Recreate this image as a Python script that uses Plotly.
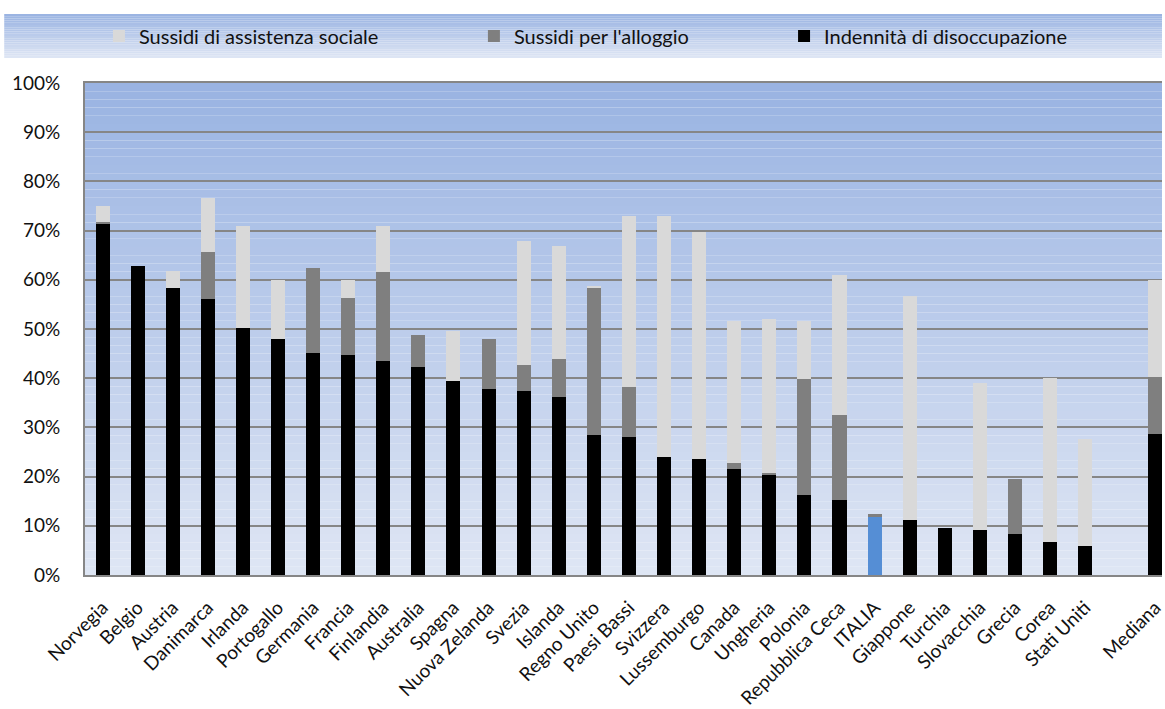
import plotly.graph_objects as go

categories = ["Norvegia", "Belgio", "Austria", "Danimarca", "Irlanda", "Portogallo",
              "Germania", "Francia", "Finlandia", "Australia", "Spagna", "Nuova Zelanda",
              "Svezia", "Islanda", "Regno Unito", "Paesi Bassi", "Svizzera", "Lussemburgo",
              "Canada", "Ungheria", "Polonia", "Repubblica Ceca", "ITALIA", "Giappone",
              "Turchia", "Slovacchia", "Grecia", "Corea", "Stati Uniti", " ", "Mediana"]

disoccupazione = [71.4, 62.9, 58.4, 56.0, 50.3, 47.9, 45.1, 44.7, 43.4, 42.2, 39.5, 37.8,
                  37.4, 36.2, 28.5, 28.1, 24.0, 23.6, 21.6, 20.4, 16.3, 15.2, 11.9, 11.1,
                  9.5, 9.1, 8.3, 6.7, 5.8, None, 28.6]
alloggio = [0.4, 0, 0, 9.7, 0, 0, 17.4, 11.7, 18.2, 6.5, 0, 10.1,
            5.3, 7.7, 29.9, 10.1, 0, 0, 1.2, 0.4, 23.6, 17.4, 0.4, 0,
            0, 0, 11.3, 0, 0, None, 11.7]
assistenza = [3.3, 0, 3.3, 10.9, 20.7, 12.0, 0, 3.5, 9.4, 0, 10.0, 0,
              25.1, 23.0, 0.4, 34.8, 49.0, 46.2, 28.8, 31.2, 11.7, 28.4, 0, 45.7,
              0, 29.9, 0, 33.4, 21.9, None, 19.7]

names = ["Sussidi di assistenza sociale", "Sussidi per l'alloggio", "Indennità di disoccupazione"]
y_ticks = [0, 10, 20, 30, 40, 50, 60, 70, 80, 90, 100]
y_tick_labels = ["0%", "10%", "20%", "30%", "40%", "50%", "60%", "70%", "80%", "90%", "100%"]

FONT = "Lato"
black_colors = ["#558ED5" if c == "ITALIA" else "#000000" for c in categories]

fig = go.Figure()
fig.add_trace(go.Bar(x=categories, y=disoccupazione, name=names[2],
                     marker=dict(color=black_colors, line=dict(width=0)),
                     legend="legend3"))
fig.add_trace(go.Bar(x=categories, y=alloggio, name=names[1],
                     marker=dict(color="#7F7F7F", line=dict(width=0)),
                     legend="legend2"))
fig.add_trace(go.Bar(x=categories, y=assistenza, name=names[0],
                     marker=dict(color="#D9D9D9", line=dict(width=0)),
                     legend="legend"))

# gradient backgrounds
def lerp(c1, c2, t):
    return "rgb(%d,%d,%d)" % tuple(round(a + (b - a) * t) for a, b in zip(c1, c2))

top_c = (153, 179, 226)
bot_c = (223, 230, 244)
shapes = []
N = 60
for i in range(N):
    y0 = i / N
    y1 = (i + 1) / N
    t = 1 - (y0 + y1) / 2
    shapes.append(dict(type="rect", xref="paper", yref="paper", x0=0, x1=1, y0=y0, y1=y1,
                       fillcolor=lerp(top_c, bot_c, t), line=dict(width=0), layer="below"))
# legend band (pixels: y 14..58, x 4..1165)
ly0, ly1 = (575 - 58) / 492, (575 - 14) / 492
lx0 = (4 - 85) / 1080
M = 20
for i in range(M):
    a = ly0 + (ly1 - ly0) * i / M
    b = ly0 + (ly1 - ly0) * (i + 1) / M
    t = 1 - (i + 0.5) / M
    shapes.append(dict(type="rect", xref="paper", yref="paper", x0=lx0, x1=1, y0=a, y1=b,
                       fillcolor=lerp(top_c, bot_c, t), line=dict(width=0), layer="below"))

leg_y = (575 - 36) / 492
leg_common = dict(orientation="h", yanchor="middle", y=leg_y, xanchor="left",
                  bgcolor="rgba(0,0,0,0)", font=dict(family=FONT, size=20, color="#111111"))

fig.update_layout(
    width=1165, height=709,
    margin=dict(l=85, r=0, t=83, b=134, pad=0),
    paper_bgcolor="white",
    plot_bgcolor="rgba(0,0,0,0)",
    barmode="stack",
    bargap=0.6,
    shapes=shapes,
    showlegend=True,
    legend=dict(x=(99 - 85) / 1080, **leg_common),
    legend2=dict(x=(475 - 85) / 1080, **leg_common),
    legend3=dict(x=(786 - 85) / 1080, **leg_common),
    font=dict(family=FONT, size=19, color="#111111"),
    xaxis=dict(type="category", categoryorder="array", categoryarray=categories,
               range=[-0.5, 30.19], tickangle=-45, showgrid=False,
               showline=True, linecolor="#868686", linewidth=2, mirror=True,
               ticks="", ticklabelstandoff=12,
               tickfont=dict(family=FONT, size=19, color="#111111")),
    yaxis=dict(range=[0, 100], tickvals=y_ticks, ticktext=y_tick_labels,
               showgrid=True, gridcolor="#868686", gridwidth=2,
               showline=True, linecolor="#868686", linewidth=2,
               ticks="", ticklabelstandoff=19, zeroline=False,
               tickfont=dict(family=FONT, size=19, color="#111111")),
)

fig.write_html("out.html")
